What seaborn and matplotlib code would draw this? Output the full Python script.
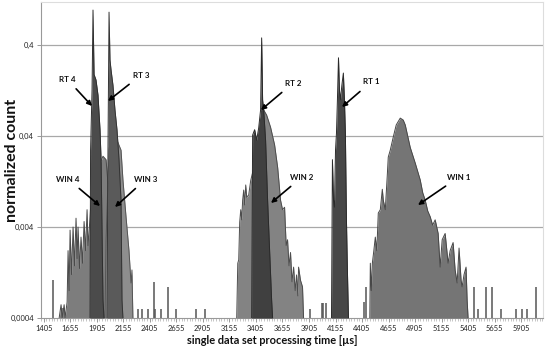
import numpy as np
import pandas as pd
import matplotlib
matplotlib.use("Agg")
import matplotlib.pyplot as plt
import seaborn as sns

# ---------------- data (time in µs, normalized count) ----------------
win4_t = [1551, 1569, 1579, 1598, 1607, 1626, 1635, 1645, 1654, 1668, 1682, 1696, 1710, 1720,
          1729, 1743, 1757, 1771, 1786, 1800, 1814, 1823, 1833, 1852, 1880, 1908, 1936, 1964,
          1993, 2011, 2030, 2049, 2068]
win4_v = [0.0004, 0.00056, 0.0004, 0.00056, 0.0004, 0.0006, 0.0022, 0.0008, 0.0037, 0.0012,
          0.0040, 0.0015, 0.0050, 0.0018, 0.0040, 0.0014, 0.0031, 0.0016, 0.0046, 0.0022,
          0.0062, 0.0025, 0.0035, 0.008, 0.012, 0.016, 0.020, 0.024, 0.022, 0.012, 0.004,
          0.0015, 0.0004]

win3_t = [1983, 1993, 2021, 2058, 2096, 2134, 2152, 2181, 2209, 2228, 2237, 2246]
win3_v = [0.0004, 0.0029, 0.028, 0.060, 0.036, 0.028, 0.0132, 0.0052, 0.0022, 0.00097,
          0.00135, 0.0004]

rt4_t = [1842, 1847, 1861, 1870, 1880, 1898, 1917, 1936, 1946, 1955, 1964, 1974]
rt4_v = [0.0004, 0.028, 0.128, 0.97, 0.19, 0.166, 0.113, 0.047, 0.022, 0.0037, 0.00063, 0.0004]

rt3_t = [2002, 2011, 2021, 2030, 2040, 2058, 2077, 2096, 2115, 2134, 2143, 2152]
rt3_v = [0.0004, 0.028, 0.92, 0.275, 0.213, 0.145, 0.0775, 0.047, 0.022, 0.0079, 0.00063, 0.0004]

win2_t = [3224, 3234, 3243, 3252, 3262, 3271, 3280, 3290, 3299, 3309, 3318, 3337, 3356, 3403,
          3449, 3478, 3506, 3543, 3581, 3610, 3637, 3656, 3675, 3690, 3703, 3717, 3731, 3745,
          3760, 3775, 3788, 3800, 3807, 3825, 3844, 3854]
win2_v = [0.0004, 0.0016, 0.00174, 0.0045, 0.0062, 0.0048, 0.0079, 0.0102, 0.0070, 0.0116,
          0.0085, 0.009, 0.013, 0.022, 0.060, 0.0775, 0.068, 0.050, 0.032, 0.018, 0.0079,
          0.0062, 0.0066, 0.0025, 0.0029, 0.0015, 0.0021, 0.0010, 0.00145, 0.0008, 0.00119,
          0.0007, 0.00145, 0.00104, 0.00088, 0.0004]

rt2_t = [3365, 3374, 3393, 3412, 3431, 3449, 3459, 3468, 3478, 3496, 3515, 3534, 3553, 3562]
rt2_v = [0.0004, 0.041, 0.047, 0.036, 0.049, 0.0775, 0.48, 0.10, 0.0775, 0.036, 0.0079,
         0.0022, 0.00063, 0.0004]

rt1_t = [4117, 4126, 4136, 4145, 4155, 4164, 4173, 4183, 4192, 4201, 4215, 4229, 4239, 4248,
         4258, 4267, 4277]
rt1_v = [0.0004, 0.022, 0.0079, 0.0066, 0.028, 0.043, 0.10, 0.29, 0.128, 0.10, 0.145, 0.197,
         0.10, 0.043, 0.0048, 0.00135, 0.0004]

win1_t = [4478, 4483, 4492, 4502, 4516, 4530, 4544, 4558, 4577, 4596, 4605, 4624, 4643, 4652,
          4671, 4699, 4727, 4765, 4793, 4812, 4859, 4906, 4953, 4977, 5000, 5024, 5047, 5070,
          5094, 5122, 5141, 5160, 5188, 5216, 5235, 5263, 5282, 5301, 5319, 5338, 5348, 5366,
          5385, 5395, 5404]
win1_v = [0.0004, 0.0016, 0.0008, 0.0016, 0.0022, 0.0031, 0.0022, 0.0057, 0.0062, 0.0104,
          0.0079, 0.0062, 0.0150, 0.0235, 0.028, 0.039, 0.053, 0.063, 0.060, 0.053, 0.030,
          0.0202, 0.0132, 0.0095, 0.0079, 0.0060, 0.0052, 0.0042, 0.0048, 0.0034, 0.00145,
          0.0029, 0.0034, 0.0016, 0.0022, 0.0027, 0.00135, 0.00097, 0.00235, 0.00104,
          0.00088, 0.0012, 0.00145, 0.00063, 0.0004]

spike_t = [1494, 1579, 1598, 2293, 2331, 2387, 2443, 2453, 2509, 2575, 2650, 2838, 2922,
           3919, 4032, 4041, 4069, 4426, 4446, 5460, 5498, 5573, 5629, 5714, 5855, 5911,
           5959, 6044]
spike_v = [0.00105, 0.00052, 0.00052, 0.0005, 0.0005, 0.0005, 0.0010, 0.0005, 0.0005,
           0.00088, 0.0005, 0.0005, 0.0005, 0.0005, 0.00059, 0.00059, 0.00059, 0.0006,
           0.00088, 0.00088, 0.0005, 0.00088, 0.00088, 0.0005, 0.0005, 0.0005, 0.0005, 0.00088]

x_ticks = [1405, 1655, 1905, 2155, 2405, 2655, 2905, 3155, 3405, 3655, 3905, 4155, 4405,
           4655, 4905, 5155, 5405, 5655, 5905]
y_ticks = [0.0004, 0.004, 0.04, 0.4]
y_tick_labels = ["0,0004", "0,004", "0,04", "0,4"]

labels = ["RT 4", "RT 3", "WIN 4", "WIN 3", "RT 2", "WIN 2", "RT 1", "WIN 1"]
# ---------------------------------------------------------------------

sns.set_theme(style="white")
plt.rcParams["font.family"] = ["Lato", "DejaVu Sans"]

W, H = 545, 355
fig = plt.figure(figsize=(W / 100, H / 100), dpi=100)
ax = fig.add_axes([41 / W, 1 - 318 / H, 502 / W, 316 / H])

YMIN = 0.0004
ax.set_yscale("log")
ax.set_xlim(1391, 6110)
ax.set_ylim(YMIN, 1.19)

# gridlines
for yt in y_ticks[1:]:
    ax.axhline(yt, color="#a8a8a8", lw=0.9, zorder=0)

series = [
    (win4_t, win4_v, "#7d7d7d", "#4a4a4a"),
    (win3_t, win3_v, "#8e8e8e", "#555555"),
    (rt4_t, rt4_v, "#4b4b4b", "#2e2e2e"),
    (rt3_t, rt3_v, "#5a5a5a", "#333333"),
    (win2_t, win2_v, "#838383", "#4d4d4d"),
    (rt2_t, rt2_v, "#404040", "#2a2a2a"),
    (rt1_t, rt1_v, "#474747", "#2a2a2a"),
    (win1_t, win1_v, "#757575", "#474747"),
]
for i, (t, v, fc, ec) in enumerate(series):
    ax.fill_between(t, YMIN, v, color=fc, lw=0, zorder=2 + i)
    df = pd.DataFrame({"t": t, "v": v})
    sns.lineplot(data=df, x="t", y="v", ax=ax, color=ec, lw=0.7, estimator=None,
                 sort=False, zorder=2 + i)

ax.vlines(spike_t, YMIN, spike_v, color="#555555", lw=1.1, zorder=1)

# axes styling
ax.set_xticks(x_ticks)
ax.set_xticklabels([str(x) for x in x_ticks], fontsize=5.4, color="#222222")
ax.set_xticks(np.arange(1405 - 25, 6110, 25), minor=True)
ax.set_yticks(y_ticks)
ax.set_yticklabels(y_tick_labels, fontsize=5.4, color="#222222")
ax.yaxis.set_minor_locator(matplotlib.ticker.NullLocator())
ax.tick_params(axis="x", which="major", length=3, width=0.6, color="#888888", pad=2,
               direction="out", bottom=True)
ax.tick_params(axis="x", which="minor", length=2, width=0.4, color="#999999",
               direction="out", bottom=True)
ax.tick_params(axis="y", which="major", length=3, width=0.6, color="#888888", pad=2,
               direction="out", left=True)
for s in ["top", "right"]:
    ax.spines[s].set_color("#dddddd")
    ax.spines[s].set_linewidth(0.8)
for s in ["left", "bottom"]:
    ax.spines[s].set_color("#999999")
    ax.spines[s].set_linewidth(0.8)

ax.set_xlabel("")
ax.set_ylabel("")
fig.text(272 / W, 1 - 341 / H, "single data set processing time [µs]", ha="center",
         va="center", fontsize=7.9, fontweight="bold", color="#111111")
fig.text(12 / W, 1 - 160 / H, "normalized count", ha="center", va="center",
         rotation=90, fontsize=11.5, fontweight="bold", color="#111111")

# annotations (text pos, arrow head) in figure pixels from top-left
ann = [
    ((67, 79), (92, 106)),
    ((141, 75), (108, 101)),
    ((68, 179), (100, 206)),
    ((146, 179), (115, 207)),
    ((293, 83), (261, 110)),
    ((302, 177), (271, 203)),
    ((371, 82), (342, 107)),
    ((459, 177), (418, 205)),
]
for lab, (tp, hp) in zip(labels, ann):
    ax.annotate(lab, xy=(hp[0], H - hp[1]), xycoords="figure pixels",
                xytext=(tp[0], H - tp[1]), textcoords="figure pixels",
                ha="center", va="center", fontsize=5.8, fontweight="bold", color="#111111",
                arrowprops=dict(arrowstyle="-|>", color="black", lw=1.2, shrinkA=3, shrinkB=0,
                                mutation_scale=7),
                zorder=20)

fig.savefig("out.png", dpi=100)
